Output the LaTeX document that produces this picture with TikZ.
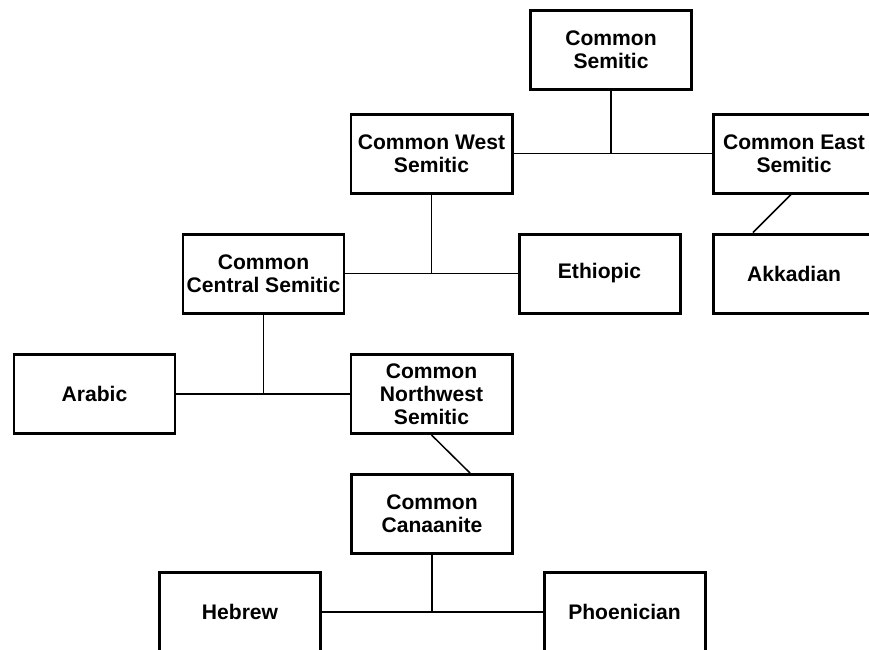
\documentclass[tikz,border=0pt]{standalone}
\usepackage{fontspec}
\setmainfont{Liberation Sans}
\usepackage{tikz}
\usetikzlibrary{positioning}

\begin{document}
\begin{tikzpicture}[
  font=\bfseries\fontsize{12}{13}\selectfont,
  lang/.style={draw, line width=1.7pt, align=center, minimum width=3.22cm, minimum height=1.58cm, inner sep=2pt},
  branch/.style={line width=0.85pt}
]
\useasboundingbox (0,0) rectangle (17.38,-12.98);

\node[lang] (cs)   at (12.22,-1.00)  {Common\\Semitic};
\node[lang] (cws)  at (8.63,-3.07)   {Common West\\Semitic};
\node[lang] (ces)  at (15.88,-3.07)  {Common East\\Semitic};
\node[lang] (ccs)  at (5.27,-5.47)   {Common\\Central Semitic};
\node[lang] (eth)  at (11.99,-5.47)  {Ethiopic};
\node[lang] (akk)  at (15.88,-5.47)  {Akkadian};
\node[lang] (ar)   at (1.89,-7.88)   {Arabic};
\node[lang] (cnws) at (8.63,-7.88)   {Common\\Northwest\\Semitic};
\node[lang] (ccan) at (8.64,-10.28)  {Common\\Canaanite};
\node[lang] (heb)  at (4.80,-12.24)  {Hebrew};
\node[lang] (pho)  at (12.49,-12.24) {Phoenician};

% West / East split
\draw[branch] (cws.east) -- (ces.west);
\draw[branch] (cs.south) -- (cs.south |- cws.east);
\draw[branch] ([xshift=-0.06cm]ces.south) -- ([xshift=-0.82cm]akk.north);

% Central / Ethiopic split
\draw[branch] (ccs.east) -- (eth.west);
\draw[branch] (cws.south) -- (cws.south |- ccs.east);

% Arabic / Northwest split
\draw[branch] (ar.east) -- (cnws.west);
\draw[branch] (ccs.south) -- (ccs.south |- ar.east);
\draw[branch] (cnws.south) -- ([xshift=0.76cm]ccan.north);

% Canaanite split
\draw[branch] (heb.east) -- (pho.west);
\draw[branch] (ccan.south) -- (ccan.south |- heb.east);

\end{tikzpicture}
\end{document}
